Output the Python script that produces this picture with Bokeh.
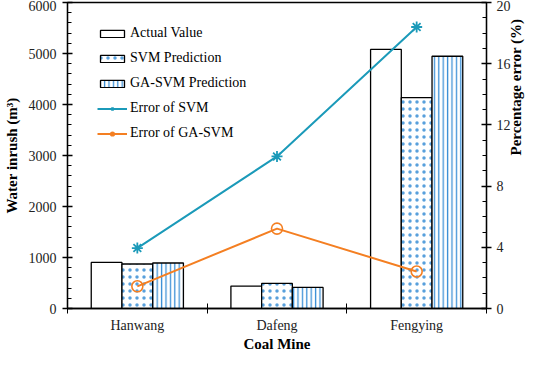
import numpy as np
from bokeh.plotting import figure
from bokeh.models import Range1d, LinearAxis, FixedTicker, Legend, LegendItem
from bokeh.embed import file_html
from bokeh.resources import INLINE

mines = ["Hanwang", "Dafeng", "Fengying"]
actual = [904, 440, 5080]
svm_pred = [873, 491, 4136]
ga_svm_pred = [892, 414, 4946]
svm_err = [3.95, 9.94, 18.4]
ga_svm_err = [1.45, 5.22, 2.42]

FONT = "Liberation Serif"
BLUE = "#3b8fd6"
TEAL = "#1b9ab9"
ORANGE = "#f47f22"

xc = np.arange(len(mines)) + 0.5
w = 0.22

p = figure(width=534, height=354, output_backend="svg", toolbar_location=None,
           x_range=Range1d(0, 3), y_range=Range1d(0, 6000))
p.min_border_left = 58
p.min_border_right = 0
p.min_border_top = 2
p.min_border_bottom = 0
p.outline_line_color = "black"
p.outline_line_width = 1.3
p.grid.visible = False
p.background_fill_color = "white"
p.border_fill_color = "white"

p.extra_y_ranges = {"err": Range1d(0, 20)}

r_act = p.vbar(x=xc - w, top=actual, width=w, fill_color="white", line_color="black", line_width=1.3)
r_svm = p.vbar(x=xc, top=svm_pred, width=w, fill_color="white", line_color="black", line_width=1.3,
               hatch_pattern="dot", hatch_color=BLUE, hatch_scale=7, hatch_weight=0.5, hatch_alpha=0.85)
r_ga = p.vbar(x=xc + w, top=ga_svm_pred, width=w, fill_color="white", line_color="black", line_width=1.3,
              hatch_pattern="vertical_line", hatch_color=BLUE, hatch_scale=4.4, hatch_weight=1.3)

l_svm = p.line(xc, svm_err, line_color=TEAL, line_width=2, y_range_name="err")
m_svm = p.scatter(xc, svm_err, marker="asterisk", size=11, line_color=TEAL, line_width=1.8, y_range_name="err")
l_ga = p.line(xc, ga_svm_err, line_color=ORANGE, line_width=2, y_range_name="err")
m_ga = p.scatter(xc, ga_svm_err, marker="circle", size=11, line_color=ORANGE, line_width=1.6,
                 fill_alpha=0, y_range_name="err")

def style_axis(ax):
    ax.axis_line_color = "black"
    ax.axis_line_width = 1.3
    ax.major_tick_line_color = "black"
    ax.minor_tick_line_color = "black"
    ax.major_tick_line_width = 1.3
    ax.minor_tick_line_width = 1
    ax.major_label_text_font = FONT
    ax.major_label_text_font_size = "14px"
    ax.major_label_text_color = "#222222"
    ax.major_label_text_line_height = 1.0
    ax.axis_label_text_font = FONT
    ax.axis_label_text_font_size = "15px"
    ax.axis_label_text_font_style = "bold"
    ax.axis_label_text_color = "black"
    ax.axis_label_text_line_height = 1.0

# bottom axis
xa = p.xaxis[0]
style_axis(xa)
xa.ticker = FixedTicker(ticks=list(xc), minor_ticks=list(range(len(mines) + 1)))
xa.major_label_overrides = {float(x): m for x, m in zip(xc, mines)}
xa.major_tick_in = 0
xa.major_tick_out = 0
xa.minor_tick_in = 5
xa.minor_tick_out = 5
xa.major_label_standoff = 4
xa.axis_label = "Coal Mine"
xa.axis_label_standoff = 0

ya = p.yaxis[0]
style_axis(ya)
ya.ticker = FixedTicker(ticks=[0, 1000, 2000, 3000, 4000, 5000, 6000],
                        minor_ticks=list(range(0, 6001, 200)))
ya.major_tick_in = 5
ya.major_tick_out = 5
ya.minor_tick_in = 4
ya.minor_tick_out = 0
ya.axis_label = "Water inrush (m³)"
ya.axis_label_standoff = 6
ya.major_label_standoff = 6

ra = LinearAxis(y_range_name="err")
style_axis(ra)
ra.ticker = FixedTicker(ticks=[0, 4, 8, 12, 16, 20], minor_ticks=list(range(0, 21)))
ra.major_tick_in = 5
ra.major_tick_out = 5
ra.minor_tick_in = 4
ra.minor_tick_out = 0
ra.major_label_standoff = 5
ra.axis_label = "Percentage error (%)"
ra.axis_label_standoff = 2
if "axis_label_orientation" in ra.properties():
    ra.axis_label_orientation = float(np.pi / 2)
p.add_layout(ra, "right")

legend = Legend(items=[
    LegendItem(label="Actual Value", renderers=[r_act]),
    LegendItem(label="SVM Prediction", renderers=[r_svm]),
    LegendItem(label="GA-SVM Prediction", renderers=[r_ga]),
    LegendItem(label="Error of SVM", renderers=[l_svm, m_svm]),
    LegendItem(label="Error of GA-SVM", renderers=[l_ga, m_ga]),
], location="top_left")
legend.border_line_alpha = 0
legend.background_fill_alpha = 0
legend.label_text_font = FONT
legend.label_text_font_size = "14px"
legend.label_text_color = "black"
legend.glyph_width = 30
legend.glyph_height = 9
legend.label_height = 20
legend.spacing = 5
legend.label_standoff = 3
legend.margin = 0
legend.padding = 0
legend.location = (30, 165)
p.add_layout(legend)

open("out.html", "w").write(file_html(p, INLINE))
